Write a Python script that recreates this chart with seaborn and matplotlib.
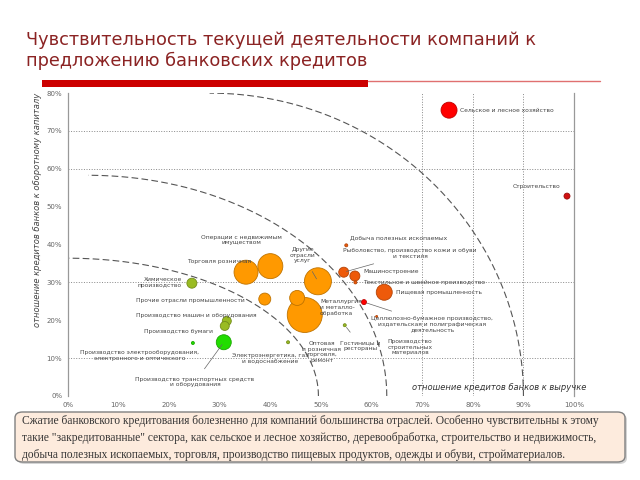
import numpy as np
import pandas as pd
import matplotlib
matplotlib.use("Agg")
import matplotlib.pyplot as plt
from matplotlib.patches import FancyBboxPatch, Rectangle
from matplotlib.lines import Line2D
import seaborn as sns

sns.set_style("white")
plt.rcParams['font.family'] = ['DejaVu Sans']

# ---- data (%) ----
sectors = [
    "Сельское и лесное хозяйство",
    "Строительство",
    "Химическое\nпроизводство",
    "Производство машин и оборудования",
    "Производство бумаги",
    "Производство электрооборудования,\nэлектронного и оптического",
    "Производство транспортных средств\nи оборудования",
    "Торговля розничная",
    "Операции с недвижимым\nимуществом",
    "Прочие отрасли промышленности",
    "Другие\nотрасли\nуслуг",
    "Металлургия\nи металло-\nобработка",
    "Оптовая\nи розничная\nторговля,\nремонт",
    "Электроэнергетика, газ\nи водоснабжение",
    "Добыча полезных ископаемых",
    "Рыболовство, производство кожи и обуви\nи текстиля",
    "Машиностроение",
    "Текстильное и швейное производство",
    "Пищевая промышленность",
    "Целлюлозно-бумажное производство,\nиздательская и полиграфическая\nдеятельность",
    "Гостиницы и\nрестораны",
    "Производство\nстроительных\nматериалов",
]
credit_to_revenue = [75.3, 98.6, 24.5, 31.4, 31.0, 24.7, 30.8, 35.2, 40.0, 38.9, 49.4,
                     45.3, 46.8, 43.5, 55.0, 54.5, 56.7, 56.8, 62.5, 58.5, 54.7, 61.0]
credit_to_wc = [75.5, 52.8, 29.8, 19.8, 18.5, 14.0, 14.2, 32.7, 34.3, 25.6, 30.3,
                25.9, 21.4, 14.2, 39.8, 32.7, 31.7, 30.0, 27.4, 24.8, 18.7, 21.0]
weight = [256, 36, 100, 81, 81, 9, 225, 576, 625, 144, 729,
          225, 1225, 9, 9, 100, 100, 9, 256, 25, 9, 4]
group = ["red", "darkred", "olive", "olive", "olive", "green", "green", "orange", "orange",
         "orange", "orange", "orange", "orange", "olive", "orangered", "orangered",
         "orangered", "orangered", "orangered", "red", "olive", "orangered"]

# label placement (text x, y in %, alignment, leader line)
label_x = [77.5, 97.2, 22.5, 25.3, 28.6, 14.2, 25.1, 23.5, 34.3, 35.0, 46.4,
           49.8, 50.2, 40.0, 55.8, 67.6, 58.4, 58.4, 64.8, 72.0, 57.8, 67.6]
label_y = [75.5, 55.4, 30.0, 21.2, 17.1, 10.7, 3.7, 35.4, 41.2, 25.3, 37.2,
           23.3, 11.6, 9.8, 41.8, 37.6, 32.8, 30.0, 27.4, 18.9, 13.4, 12.9]
label_ha = ["left", "right", "right", "center", "right", "center", "center", "left",
            "center", "right", "center", "left", "center", "center", "left", "center",
            "left", "left", "left", "center", "center", "center"]
leader = [False, False, False, False, False, False, True, False, False, False, True,
          False, False, False, False, True, False, False, False, True, True, False]

palette = {"red": "#FF0000", "darkred": "#D01010", "orange": "#FF9900",
           "orangered": "#EE5A0A", "green": "#22DD00", "olive": "#99BB22"}

df = pd.DataFrame({"x": credit_to_revenue, "y": credit_to_wc, "w": weight, "g": group})
df = df.sort_values("w", ascending=False)

fig = plt.figure(figsize=(6.4, 4.8), dpi=100)
ax = fig.add_axes([0.106, 0.175, 0.791, 0.631])

# reference arcs
arc_cx = [0, 4, 28]
arc_a = [49.5, 59, 62]
arc_b = [36.4, 58.3, 80]
t = np.linspace(0, np.pi / 2, 300)
for cx, a, b in zip(arc_cx, arc_a, arc_b):
    ax.plot(cx + a * np.cos(t), b * np.sin(t), color="#555555", lw=0.8,
            linestyle=(0, (6, 3)), zorder=1)

for v in [10, 30, 60, 70]:
    ax.axhline(v, color="#888888", lw=0.7, linestyle=":", zorder=0)
for v in [70, 80, 90]:
    ax.axvline(v, color="#888888", lw=0.7, linestyle=":", zorder=0)

wmin, wmax = min(weight), max(weight)
sns.scatterplot(data=df, x="x", y="y", hue="g", size="w", palette=palette,
                sizes=(0.518 * wmin, 0.518 * wmax), size_norm=(wmin, wmax),
                legend=False, ax=ax, zorder=3, clip_on=False)
pts = ax.collections[-1]
fc = pts.get_facecolors()
ec = fc.copy()
ec[:, :3] *= 0.75
pts.set_edgecolors(ec)
pts.set_linewidths(0.6)

for i, s in enumerate(sectors):
    if leader[i]:
        ax.annotate(s, xy=(credit_to_revenue[i], credit_to_wc[i]),
                    xytext=(label_x[i], label_y[i]), ha=label_ha[i], va="center",
                    fontsize=4.3, color="#444444", linespacing=1.2,
                    arrowprops=dict(arrowstyle="-", color="#666666", lw=0.5,
                                    shrinkA=4, shrinkB=2), zorder=4)
    else:
        ax.text(label_x[i], label_y[i], s, ha=label_ha[i], va="center",
                fontsize=4.3, color="#444444", linespacing=1.2, zorder=4)

ax.set_xlim(0, 100)
ax.set_ylim(0, 80)
ax.set_xticks(range(0, 101, 10))
ax.set_xticklabels([f"{v}%" for v in range(0, 101, 10)])
ax.set_yticks(range(0, 81, 10))
ax.set_yticklabels([f"{v}%" for v in range(0, 81, 10)])
ax.tick_params(labelsize=5, colors="#666666", length=0, pad=4)
ax.set_xlabel("")
ax.set_ylabel("")
for sp in ["top", "bottom"]:
    ax.spines[sp].set_visible(False)
for sp in ["left", "right"]:
    ax.spines[sp].set_color("#999999")
    ax.spines[sp].set_linewidth(0.9)

ax.text(-0.06, 1.0, "отношение кредитов банков к оборотному капиталу", transform=ax.transAxes,
        rotation=90, ha="center", va="top", fontsize=6, style="italic", color="#444444")
ax.text(68, 2.2, "отношение кредитов банков к выручке", ha="left", va="center",
        fontsize=6, style="italic", color="#333333")

# title and red rule
fig.text(0.04, 0.895, "Чувствительность текущей деятельности компаний к\nпредложению банковских кредитов",
         ha="left", va="center", fontsize=12.8, color="#8B2323", linespacing=1.2)
fig.add_artist(Rectangle((42 / 640, 1 - 87 / 480), 326 / 640, 7 / 480,
                         transform=fig.transFigure, color="#CC0000", lw=0))
fig.add_artist(Line2D([368 / 640, 600 / 640], [1 - 81 / 480, 1 - 81 / 480],
                      transform=fig.transFigure, color="#E07070", lw=1))

# note box
fig.add_artist(FancyBboxPatch((17 / 640, 1 - 464 / 480), 610 / 640, 50 / 480,
                              boxstyle="round,pad=0,rounding_size=0.012",
                              transform=fig.transFigure, facecolor="#AAAAAA",
                              edgecolor="none", alpha=0.5))
fig.add_artist(FancyBboxPatch((15 / 640, 1 - 462 / 480), 610 / 640, 50 / 480,
                              boxstyle="round,pad=0,rounding_size=0.012",
                              transform=fig.transFigure, facecolor="#FDEBDD",
                              edgecolor="#808080", lw=1))
note = ("Сжатие банковского кредитования болезненно для компаний большинства отраслей. Особенно чувствительны к этому\n"
        "такие \"закредитованные\" сектора, как сельское и лесное хозяйство, деревообработка, строительство и недвижимость,\n"
        "добыча полезных ископаемых, торговля, производство пищевых продуктов, одежды и обуви, стройматериалов.")
fig.text(22 / 640, 1 - 438 / 480, note, ha="left", va="center", fontsize=8.3,
         family="Liberation Serif", color="#333333", linespacing=1.55)

fig.savefig("out.png", dpi=100)
